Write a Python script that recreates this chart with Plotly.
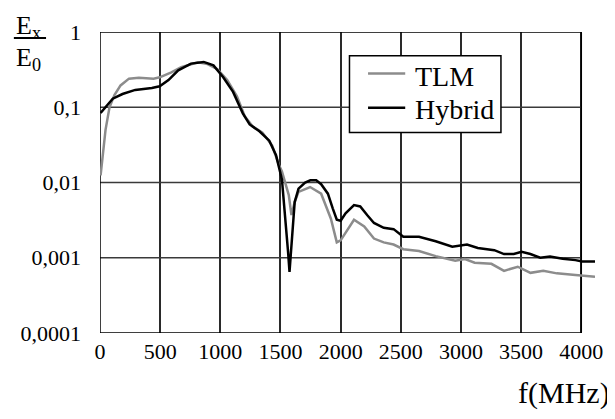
import plotly.graph_objects as go

# ---- data ----
freq_hybrid = [5, 106, 187, 293, 431, 496, 569, 650, 756, 862, 943, 1024, 1106, 1187, 1244,
               1325, 1407, 1463, 1512, 1542, 1563, 1575, 1596, 1618, 1650, 1705, 1748, 1797,
               1838, 1894, 1935, 1968, 2000, 2041, 2111, 2163, 2220, 2277, 2358, 2440, 2521,
               2651, 2790, 2928, 3050, 3140, 3277, 3358, 3439, 3504, 3577, 3659, 3740, 3846,
               3951, 4008, 4114]
hybrid = [0.084, 0.13, 0.15, 0.17, 0.18, 0.19, 0.23, 0.31, 0.38, 0.40, 0.36, 0.25, 0.16, 0.083,
          0.059, 0.048, 0.036, 0.023, 0.011, 0.0033, 0.0012, 0.00065, 0.002, 0.0055, 0.0083,
          0.010, 0.0107, 0.0107, 0.0095, 0.0071, 0.0045, 0.0032, 0.0031, 0.0039, 0.0050,
          0.0048, 0.0037, 0.0029, 0.0025, 0.0024, 0.0019, 0.0019, 0.00166, 0.0014, 0.0015,
          0.00135, 0.00126, 0.00112, 0.00112, 0.0012, 0.00112, 0.0010, 0.00104, 0.00097,
          0.00093, 0.00089, 0.00089]

freq_tlm = [5, 24, 46, 79, 120, 171, 241, 323, 445, 496, 593, 675, 756, 813, 894, 976, 1057,
            1138, 1203, 1268, 1350, 1431, 1488, 1512, 1569, 1591, 1618, 1650, 1746, 1838, 1919,
            1968, 2000, 2111, 2196, 2277, 2358, 2440, 2521, 2651, 2790, 2952, 3033, 3114, 3253,
            3358, 3472, 3578, 3684, 3797, 3951, 4114]
tlm = [0.0124, 0.025, 0.05, 0.10, 0.145, 0.195, 0.24, 0.246, 0.24, 0.25, 0.29, 0.34, 0.375,
       0.395, 0.375, 0.32, 0.23, 0.14, 0.076, 0.056, 0.046, 0.031, 0.017, 0.014, 0.0068,
       0.0037, 0.0055, 0.0075, 0.0087, 0.0071, 0.0033, 0.0016, 0.0017, 0.0032, 0.0026,
       0.0018, 0.0016, 0.0015, 0.0013, 0.00123, 0.00105, 0.00091, 0.00096, 0.00086, 0.00083,
       0.00067, 0.00076, 0.00063, 0.00067, 0.00062, 0.00059, 0.00056]

series_names = ["TLM", "Hybrid"]
series_colors = ["#8c8c8c", "black"]

x_ticks = [0, 500, 1000, 1500, 2000, 2500, 3000, 3500, 4000]
y_ticks = [0.0001, 0.001, 0.01, 0.1, 1]
y_ticktext = ["0,0001", "0,001", "0,01", "0,1", "1"]

FONT = "'Liberation Serif', 'Times New Roman', Times, 'DejaVu Serif', serif"
x_max_axis = x_ticks[-1]

fig = go.Figure()

# horizontal grid lines (stop at the last x tick like the reference)
gx, gy = [], []
for v in y_ticks[1:-1]:
    gx += [x_ticks[0], x_max_axis, None]
    gy += [v, v, None]
fig.add_trace(go.Scatter(x=gx, y=gy, mode="lines", line=dict(color="#3a3a3a", width=1.5),
                         showlegend=False, hoverinfo="skip"))
# plot-area frame
fig.add_trace(go.Scatter(x=[x_ticks[0], x_max_axis, x_max_axis, x_ticks[0], x_ticks[0]],
                         y=[y_ticks[0], y_ticks[0], y_ticks[-1], y_ticks[-1], y_ticks[0]],
                         mode="lines", line=dict(color="black", width=1.5),
                         showlegend=False, hoverinfo="skip"))

fig.add_trace(go.Scatter(x=freq_tlm, y=tlm, mode="lines", name=series_names[0],
                         line=dict(color=series_colors[0], width=2.5), showlegend=False))
fig.add_trace(go.Scatter(x=freq_hybrid, y=hybrid, mode="lines", name=series_names[1],
                         line=dict(color=series_colors[1], width=2.5), showlegend=False))

# ---- hand-built legend box (paper coordinates) ----
leg_x0, leg_x1, leg_y0, leg_y1 = 0.504, 0.810, 0.666, 0.921
sample_x0, sample_x1, text_x = 0.5415, 0.6166, 0.632
row_line_y = [0.862, 0.748]
row_text_y = [0.853, 0.742]

shapes = [dict(type="rect", xref="paper", yref="paper", x0=leg_x0, x1=leg_x1,
               y0=leg_y0, y1=leg_y1, fillcolor="white",
               line=dict(color="black", width=1.5), layer="above")]
annotations = []
for name, col, ly, ty in zip(series_names, series_colors, row_line_y, row_text_y):
    shapes.append(dict(type="line", xref="paper", yref="paper", x0=sample_x0, x1=sample_x1,
                       y0=ly, y1=ly, line=dict(color=col, width=2.5), layer="above"))
    annotations.append(dict(text=name, xref="paper", yref="paper", x=text_x, y=ty,
                            xanchor="left", yanchor="middle", showarrow=False,
                            font=dict(family=FONT, size=28, color="black")))

# y-axis title as a fraction E_x / E_0
shapes.append(dict(type="line", xref="paper", yref="paper", x0=-0.174, x1=-0.109,
                   y0=0.98, y1=0.98, line=dict(color="black", width=2)))
annotations += [
    dict(text="f(MHz)", xref="paper", yref="paper", x=1.035, y=-0.2,
         xanchor="right", yanchor="middle", showarrow=False,
         font=dict(family=FONT, size=30)),
    dict(text="E<sub>x</sub>", xref="paper", yref="paper", x=-0.145, y=1.017,
         xanchor="center", yanchor="middle", showarrow=False,
         font=dict(family=FONT, size=26)),
    dict(text="E<sub>0</sub>", xref="paper", yref="paper", x=-0.145, y=0.91,
         xanchor="center", yanchor="middle", showarrow=False,
         font=dict(family=FONT, size=26)),
]

# the page body adds an 8 px offset, so the figure is 8 px smaller on each axis
fig.update_layout(
    width=607, height=411,
    margin=dict(l=89, r=12, t=20, b=86),
    paper_bgcolor="white", plot_bgcolor="white",
    font=dict(family=FONT, size=22, color="black"),
    showlegend=False,
    xaxis=dict(range=[0, 4114], tickvals=x_ticks, ticktext=[str(t) for t in x_ticks],
               showgrid=True, gridcolor="#2a2a2a", gridwidth=1.5, zeroline=False,
               showline=False, ticks="", ticklabelstandoff=3,
               tickfont=dict(family=FONT, size=22)),
    yaxis=dict(type="log", range=[-4, 0], tickvals=y_ticks, ticktext=y_ticktext,
               showgrid=False, zeroline=False, showline=False, ticks="",
               ticklabelstandoff=18, tickfont=dict(family=FONT, size=22)),
    annotations=annotations,
    shapes=shapes,
)

fig.write_html("out.html")
